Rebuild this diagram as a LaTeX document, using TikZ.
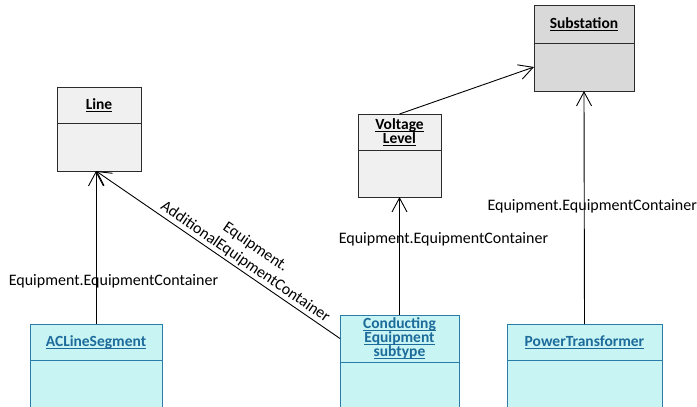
\documentclass[tikz,border=0pt]{standalone}
\usepackage{fontspec}
\setmainfont{Carlito}
\usetikzlibrary{positioning, arrows.meta}
\definecolor{umlgray}{HTML}{F0F0F0}
\definecolor{umldark}{HTML}{D9D9D9}
\definecolor{umlcyan}{HTML}{C9F4F4}
\definecolor{umledge}{HTML}{2B7DA9}
\definecolor{umltext}{HTML}{1C6B9B}
\definecolor{umlline}{HTML}{2B2B2B}
\newcommand{\cname}[1]{\setbox0\hbox{#1}\dp0 0pt\rlap{\rule[-2.2pt]{\wd0}{0.8pt}}\box0}

\begin{document}
\begin{tikzpicture}[
      x=1pt, y=-1pt,
      every node/.style={font=\fontsize{16}{14}\selectfont},
      head/.style={draw=umlline, fill=umlgray, line width=0.8pt,
                   outer sep=0pt, inner sep=0pt, align=center,
                   font=\fontsize{15.5}{14}\selectfont\bfseries},
      body/.style={draw=umlline, fill=umlgray, line width=0.8pt,
                   outer sep=0pt, inner sep=0pt},
      cyanhead/.style={head, draw=umledge, fill=umlcyan, text=umltext},
      cyanbody/.style={body, draw=umledge, fill=umlcyan},
      assoc/.style={line width=0.9pt, -{Straight Barb[length=14pt, width=15pt]}},
      role/.style={inner sep=0pt, align=center,
                   font=\fontsize{16}{17}\selectfont},
    ]
    \useasboundingbox (0,0) rectangle (697,407);
    \clip (0,0) rectangle (697,407);

    % containers
    \node[head, minimum width=84pt, minimum height=36pt]  (line) at (99, 105)
      {\cname{Line}};
    \node[body, minimum width=84pt, minimum height=48pt, below=0pt of line] (lineb) {};
    \node[head, fill=umldark, minimum width=100pt, minimum height=38pt] (sub) at (584, 24)
      {\cname{Substation}};
    \node[body, fill=umldark, minimum width=100pt, minimum height=48pt, below=0pt of sub] (subb) {};
    \node[head, minimum width=83pt, minimum height=36pt]  (vl) at (399.5, 132)
      {\cname{Voltage}\\\cname{Level}};
    \node[body, minimum width=83pt, minimum height=47pt, below=0pt of vl] (vlb) {};

    % equipment
    \node[cyanhead, minimum width=132pt, minimum height=36pt] (acl) at (96, 342)
      {\cname{ACLineSegment}};
    \node[cyanbody, minimum width=132pt, minimum height=60pt, below=0pt of acl] (aclb) {};
    \node[cyanhead, minimum width=119pt, minimum height=47pt] (ce) at (399.5, 338.5)
      {\cname{Conducting}\\\cname{Equipment}\\\cname{subtype}};
    \node[cyanbody, minimum width=119pt, minimum height=60pt, below=0pt of ce] (ceb) {};
    \node[cyanhead, minimum width=155pt, minimum height=36pt] (pt) at (584.5, 342)
      {\cname{PowerTransformer}};
    \node[cyanbody, minimum width=155pt, minimum height=60pt, below=0pt of pt] (ptb) {};

    \coordinate (lineend) at (acl.north |- lineb.south);

    \draw[assoc] (acl.north) -- node[role, pos=0.28, xshift=17.5pt] (r1)
      {Equipment.EquipmentContainer} (lineend);
    \draw[assoc, {Straight Barb[length=14pt, width=15pt]}-] (lineend) --
      node[role, pos=0.59, sloped, above=2pt, font=\fontsize{16}{18}\selectfont] (r2)
      {Equipment.\\AdditionalEquipmentContainer} (ce.west);
    \draw[assoc] (ce.north) -- node[role, pos=0.64, xshift=44pt] (r3)
      {Equipment.EquipmentContainer} (vlb.south);
    \draw[assoc] (vl.north) -- (subb.west);
    \draw[assoc] (pt.north) -- node[role, pos=0.506, xshift=8pt] (r4)
      {Equipment.EquipmentContainer} (subb.south);
  \end{tikzpicture}
\end{document}
